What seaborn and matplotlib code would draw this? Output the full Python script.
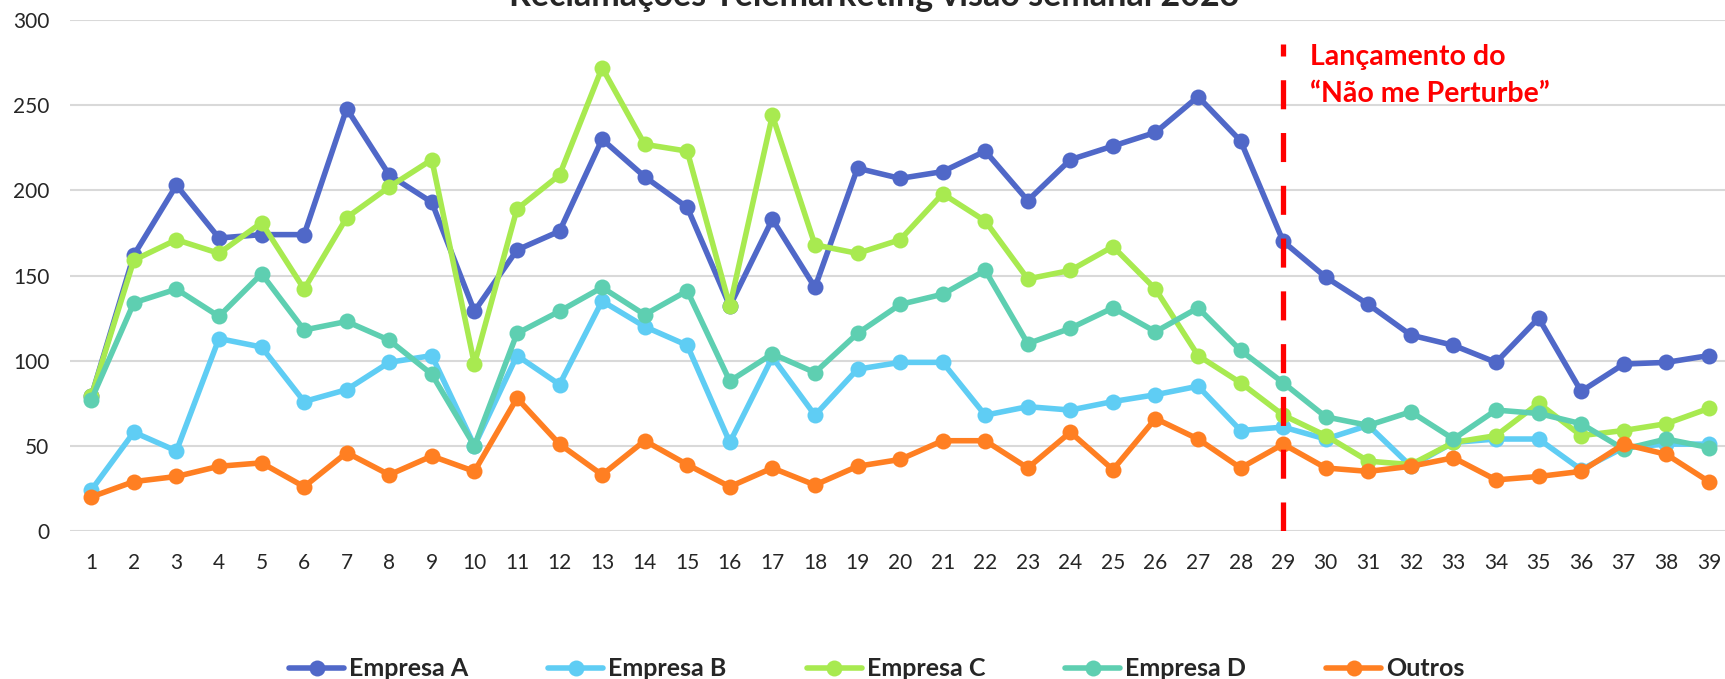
import pandas as pd
import seaborn as sns
import matplotlib.pyplot as plt
import numpy as np

semanas = list(range(1, 40))
empresa_a = [79, 162, 203, 172, 174, 174, 248, 209, 193, 129, 165, 176, 230, 208, 190, 132, 183, 143, 213, 207,
             211, 223, 194, 218, 226, 234, 255, 229, 170, 149, 133, 115, 109, 99, 125, 82, 98, 99, 103]
empresa_b = [24, 58, 47, 113, 108, 76, 83, 99, 103, 50, 103, 86, 135, 120, 109, 52, 102, 68, 95, 99,
             99, 68, 73, 71, 76, 80, 85, 59, 61, 54, 62, 38, 52, 54, 54, 36, 49, 51, 51]
empresa_c = [79, 159, 171, 163, 181, 142, 184, 202, 218, 98, 189, 209, 272, 227, 223, 132, 244, 168, 163, 171,
             198, 182, 148, 153, 167, 142, 103, 87, 68, 56, 41, 39, 52, 56, 75, 56, 59, 63, 72]
empresa_d = [77, 134, 142, 126, 151, 118, 123, 112, 92, 50, 116, 129, 143, 127, 141, 88, 104, 93, 116, 133,
             139, 153, 110, 119, 131, 117, 131, 106, 87, 67, 62, 70, 54, 71, 69, 63, 48, 54, 49]
outros = [20, 29, 32, 38, 40, 26, 46, 33, 44, 35, 78, 51, 33, 53, 39, 26, 37, 27, 38, 42,
          53, 53, 37, 58, 36, 66, 54, 37, 51, 37, 35, 38, 43, 30, 32, 35, 51, 45, 29]
series = ['Empresa A', 'Empresa B', 'Empresa C', 'Empresa D', 'Outros']
cores = ['#5068C8', '#5FCDF4', '#A8EA50', '#5ECFB1', '#FF7F22']
semana_lancamento = 29

data = pd.DataFrame({
    'semana': semanas * 5,
    'valor': empresa_a + empresa_b + empresa_c + empresa_d + outros,
    'serie': np.repeat(series, len(semanas)),
})

sns.set_style("white")
plt.rcParams['font.family'] = ['Lato', 'DejaVu Sans']

fig = plt.figure(figsize=(17.25, 6.79), dpi=100)
ax = fig.add_axes([70/1725, 1 - 531/679, 1 - 70/1725 + 0.003, 511/679])

sns.lineplot(data=data, x='semana', y='valor', hue='serie', palette=cores, ax=ax,
             marker='o', markersize=11.5, markeredgewidth=0, linewidth=4, legend=True)

ax.axvline(semana_lancamento, ymin=0, ymax=286/300, color='#FF0000', linewidth=3.8,
           dashes=(5.5, 4.5), zorder=3)
# anotação do lançamento (baseline = última linha)
ax.text(semana_lancamento + 0.62, 252, 'Lançamento do\n\u201cNão me Perturbe\u201d', color='#FF0000',
        fontsize=20.5, fontweight='bold', va='baseline', ha='left', linespacing=1.5)

ax.set_xlim(0.5, 39.5)
ax.set_ylim(0, 300)
ax.set_xticks(semanas)
ax.set_xticklabels([str(s) for s in semanas], fontsize=15)
ax.set_yticks(np.arange(0, 301, 50))
ax.set_yticklabels([str(v) for v in np.arange(0, 301, 50)], fontsize=15)
ax.tick_params(axis='x', length=0, pad=16)
ax.tick_params(axis='y', length=0, pad=15)
ax.set_xlabel('')
ax.set_ylabel('')
ax.grid(axis='y', color='#D9D9D9', linewidth=1.5)
ax.set_axisbelow(True)
sns.despine(ax=ax, left=True, bottom=True)

handles, labels = ax.get_legend_handles_labels()
ax.legend(handles, labels, loc='center', bbox_to_anchor=(0.486, -0.27), ncol=5, frameon=False,
          prop={'size': 18, 'weight': 'bold'}, handlelength=2.2, handletextpad=0.2,
          columnspacing=3.2)

fig.text(0.507, 1 - 6.5/679, 'Reclamações Telemarketing visão semanal 2023', ha='center',
         va='baseline', fontsize=24.5, fontweight='bold')

plt.savefig('out.png', dpi=100)
